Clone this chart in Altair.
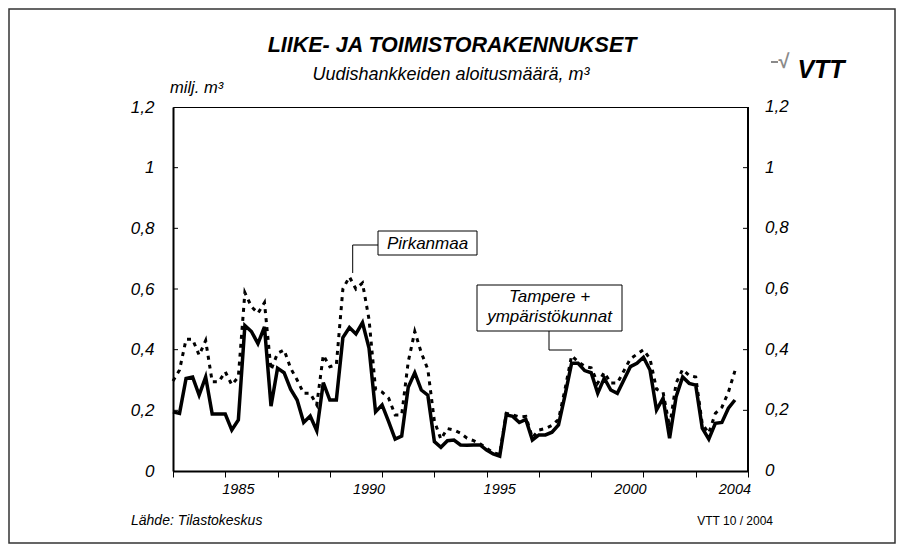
import altair as alt
import pandas as pd

FONT = "Liberation Sans"

# quarterly data, 1983 Q1 .. 2004 Q3 (milj. m3)
start_year = 1983
tampere = [0.195, 0.19, 0.305, 0.31, 0.25, 0.31, 0.188, 0.188, 0.188, 0.135, 0.168,
           0.48, 0.46, 0.42, 0.475, 0.214, 0.339, 0.324, 0.27, 0.234, 0.16, 0.181,
           0.133, 0.291, 0.234, 0.234, 0.44, 0.473, 0.452, 0.489, 0.405, 0.195,
           0.218, 0.163, 0.105, 0.115, 0.276, 0.324, 0.267, 0.25, 0.097, 0.078,
           0.1, 0.102, 0.086, 0.085, 0.086, 0.086, 0.069, 0.056, 0.049, 0.185,
           0.18, 0.16, 0.17, 0.102, 0.119, 0.119, 0.128, 0.152, 0.25, 0.355,
           0.355, 0.331, 0.324, 0.256, 0.306, 0.267, 0.256, 0.30, 0.344, 0.355,
           0.375, 0.333, 0.201, 0.24, 0.108, 0.245, 0.31, 0.289, 0.283, 0.141,
           0.105, 0.157, 0.16, 0.207, 0.234]
pirkanmaa = [0.297, 0.333, 0.434, 0.434, 0.382, 0.43, 0.294, 0.294, 0.327, 0.284, 0.31,
             0.588, 0.542, 0.52, 0.555, 0.333, 0.388, 0.399, 0.339, 0.30, 0.256, 0.256,
             0.218, 0.382, 0.344, 0.35, 0.60, 0.64, 0.60, 0.62, 0.50, 0.27,
             0.26, 0.24, 0.185, 0.185, 0.36, 0.46, 0.39, 0.335, 0.165, 0.105,
             0.14, 0.135, 0.125, 0.108, 0.10, 0.09, 0.075, 0.06, 0.055, 0.19,
             0.185, 0.178, 0.18, 0.11, 0.135, 0.14, 0.15, 0.17, 0.27, 0.38,
             0.36, 0.345, 0.34, 0.29, 0.325, 0.29, 0.29, 0.33, 0.37, 0.385,
             0.40, 0.37, 0.27, 0.26, 0.145, 0.29, 0.335, 0.315, 0.31, 0.155,
             0.125, 0.19, 0.21, 0.26, 0.33]

y_ticks = [0, 0.2, 0.4, 0.6, 0.8, 1.0, 1.2]
inner_ticks = [0.2, 0.4, 0.6, 0.8, 1.0]
year_ticks = list(range(1983, 2006))
year_labels = ["1985", "1990", "1995", "2000", "2004"]
year_label_at = [1985.5, 1990.5, 1995.5, 2000.5, 2004.5]

W, H = 575, 364
PX, PY = 173, 107  # page position of plot origin


def P(xp):
    return xp - PX


def Q(yp):
    return yp - PY


t = [start_year + k / 4 for k in range(len(tampere))]
df_t = pd.DataFrame({"t": t, "v": tampere})
df_p = pd.DataFrame({"t": t, "v": pirkanmaa})
df_yt = pd.DataFrame({"v": y_ticks})
df_it = pd.DataFrame({"v": inner_ticks})
df_years = pd.DataFrame({"t": year_label_at, "lab": year_labels})
one = pd.DataFrame({"d": [0]})

xscale = alt.Scale(domain=[1983, 2005], nice=False, zero=False)
yscale = alt.Scale(domain=[0, 1.2], nice=False)

X = alt.X("t:Q", scale=xscale,
          axis=alt.Axis(values=year_ticks, labels=False, tickSize=6, tickColor="black",
                        tickWidth=1, domainColor="black", domainWidth=2, grid=False,
                        title=None))
Y = alt.Y("v:Q", scale=yscale,
          axis=alt.Axis(values=y_ticks,
                        labelExpr="replace(format(datum.value, '~g'), '.', ',')",
                        ticks=False, domainColor="black", domainWidth=2, grid=False,
                        title=None, labelFont=FONT, labelFontSize=17,
                        labelFontStyle="italic", labelPadding=19, labelColor="black"))


def txt(text, xp, yp, size, style="italic", weight="normal", align="center",
        color="black"):
    return alt.Chart(one).mark_text(
        text=text, fontSize=size, fontStyle=style, fontWeight=weight, align=align,
        baseline="middle", font=FONT, color=color
    ).encode(x=alt.value(P(xp)), y=alt.value(Q(yp)))


def box(x1, y1, x2, y2):
    return alt.Chart(one).mark_rect(fill="white", stroke="black", strokeWidth=1).encode(
        x=alt.value(P(x1)), x2=alt.value(P(x2)), y=alt.value(Q(y1)), y2=alt.value(Q(y2)))


def vline(xp, y1, y2, w=1, color="black"):
    return alt.Chart(one).mark_rule(color=color, strokeWidth=w).encode(
        x=alt.value(P(xp)), y=alt.value(Q(y1)), y2=alt.value(Q(y2)))


def hline(x1, x2, yp, w=1, color="black"):
    return alt.Chart(one).mark_rule(color=color, strokeWidth=w).encode(
        x=alt.value(P(x1)), x2=alt.value(P(x2)), y=alt.value(Q(yp)))


frame = alt.Chart(one).mark_rect(fill="transparent", stroke="#333333", strokeWidth=1.5).encode(
    x=alt.value(P(9)), x2=alt.value(P(895)), y=alt.value(Q(9)), y2=alt.value(Q(543)))

line_dot = alt.Chart(df_p).mark_line(color="black", strokeWidth=3, strokeDash=[4, 5]).encode(
    x=X, y=Y)
line_solid = alt.Chart(df_t).mark_line(color="black", strokeWidth=3.5).encode(x=X, y=Y)

right_border = alt.Chart(one).mark_rule(color="black", strokeWidth=2).encode(
    x=alt.value(W), y=alt.value(0), y2=alt.value(H))

ticks_left = alt.Chart(df_it).mark_rule(color="black", strokeWidth=1).encode(
    y=alt.Y("v:Q", scale=yscale), x=alt.value(0), x2=alt.value(5))
ticks_right = alt.Chart(df_it).mark_rule(color="black", strokeWidth=1).encode(
    y=alt.Y("v:Q", scale=yscale), x=alt.value(W - 5), x2=alt.value(W))

right_labels = alt.Chart(df_yt).transform_calculate(
    lab="replace(format(datum.v, '~g'), '.', ',')"
).mark_text(align="left", baseline="middle", fontSize=17, fontStyle="italic",
            font=FONT, color="black").encode(
    y=alt.Y("v:Q", scale=yscale), x=alt.value(W + 17), text="lab:N")

year_text = alt.Chart(df_years).mark_text(
    align="center", baseline="middle", fontSize=14.5, fontStyle="italic", font=FONT,
    color="black").encode(x=alt.X("t:Q", scale=xscale), y=alt.value(Q(490)), text="lab:N")

layers = [
    frame,
    line_dot,
    line_solid,
    right_border,
    ticks_left,
    ticks_right,
    right_labels,
    year_text,
    txt("LIIKE- JA TOIMISTORAKENNUKSET", 452, 46, 21.5, weight="bold"),
    txt("Uudishankkeiden aloitusmäärä, m³", 451, 75, 18),
    txt("milj. m³", 170, 88, 16.5, align="left"),
    # VTT logo
    hline(771, 778, 62, w=2, color="#8a8a8a"),
    txt("√", 784, 62, 20, style="normal", weight="bold", color="#8a8a8a"),
    txt("VTT", 821, 70, 25, weight="bold"),
    txt("Lähde: Tilastokeskus", 131, 521, 14, align="left"),
    txt("VTT 10 / 2004", 773, 521, 12, style="normal", align="right"),
    # Pirkanmaa label
    vline(352.7, 245, 273),
    hline(352.7, 378, 245),
    box(378, 231, 477, 255),
    txt("Pirkanmaa", 427.5, 243.5, 17),
    # Tampere label
    vline(549, 331, 350),
    hline(549, 572, 350),
    box(477, 285, 622, 331),
    txt("Tampere +", 549.5, 297, 17),
    txt("ympäristökunnat", 549.5, 317, 17),
]

chart = alt.layer(*layers).properties(
    width=W, height=H,
    autosize=alt.AutoSizeParams(type="none"),
    padding={"left": PX - 8, "top": PY - 8, "right": 888 - (PX - 8) - W,
             "bottom": 536 - (PY - 8) - H},
    background="white",
).configure_view(stroke="black", strokeWidth=1)

chart.save("out.html", embed_options={"renderer": "svg", "actions": False})
